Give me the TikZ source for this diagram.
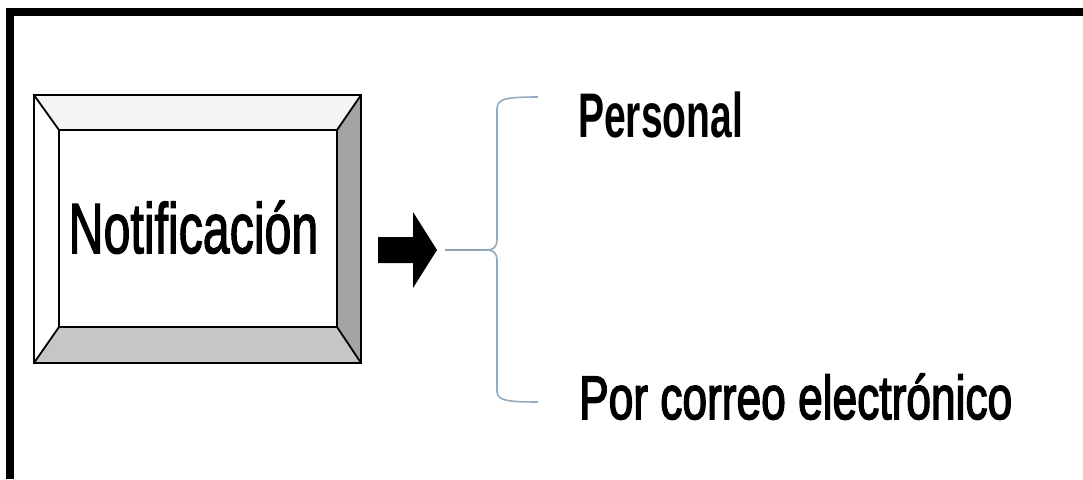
\documentclass[tikz,border=0pt]{standalone}
\usepackage{fontspec}
\setmainfont{Liberation Sans}
\newfontfamily\heavyfont[FakeBold=2.2]{Liberation Sans}
\newfontfamily\heavierfont[FakeBold=2.8]{Liberation Sans}
\definecolor{braceblue}{HTML}{94ABBF}
\definecolor{bevelR}{HTML}{A4A4A4}
\definecolor{bevelB}{HTML}{C6C6C6}
\definecolor{bevelT}{HTML}{F4F4F4}
\tikzset{
  framebar/.style={fill=black},
  bevelline/.style={draw=black, line width=1.8pt},
  bracestyle/.style={draw=braceblue, line width=1.6pt},
  lbl/.style={inner sep=0pt, anchor=base west, text=black},
}
\begin{document}
\begin{tikzpicture}[x=1pt,y=-1pt]
\useasboundingbox (0,0) rectangle (1083,479);
% frame
\fill[framebar] (6,8) rectangle (1083,16);
\fill[framebar] (6,8) rectangle (14,479);
% bevelled box
\node[minimum width=327pt, minimum height=268pt, inner sep=0pt] (box) at (197.5,229) {};
\coordinate (i1) at (59,130);
\coordinate (i2) at (337,327);
\fill[bevelT] (box.north west) -- (box.north east) -- (337,130) -- (59,130) -- cycle;
\fill[white] (box.north west) -- (59,130) -- (59,327) -- (box.south west) -- cycle;
\fill[bevelR] (box.north east) -- (box.south east) -- (337,327) -- (337,130) -- cycle;
\fill[bevelB] (box.south west) -- (box.south east) -- (337,327) -- (59,327) -- cycle;
\draw[bevelline] (box.north west) rectangle (box.south east);
\draw[bevelline] (i1) rectangle (i2);
\draw[bevelline] (box.north west) -- (i1);
\draw[bevelline] (box.north east) -- (337,130);
\draw[bevelline] (box.south west) -- (59,327);
\draw[bevelline] (box.south east) -- (i2);
\node[inner sep=0pt, anchor=base, xscale=0.68] (lab) at (193.5,253) {\fontsize{71}{71}\heavyfont Notificación};
% block arrow
\fill[black] (378,237) -- (413,237) -- (413,212) -- (437,250) -- (413,288) -- (413,263) -- (378,263) -- cycle;
\coordinate (tip) at (437,250);
% brace
\coordinate (stem) at (445,250);
\coordinate (cusp) at (487,250);
\coordinate (top) at (538,97);
\coordinate (bot) at (538,402);
\draw[draw=braceblue!80!gray, line width=2.4pt] (stem) -- (cusp);
\draw[bracestyle] (top) .. controls (505,97) and (497,99) .. (497,109) -- (497,240)
  .. controls (497,247) and (493,250) .. (cusp)
  .. controls (493,250) and (497,253) .. (497,260) -- (497,391)
  .. controls (497,400) and (505,402) .. (bot);
% labels
\node[lbl, xscale=0.62] (pers) at (578,137) {\fontsize{63}{63}\selectfont\bfseries Personal};
\node[lbl, xscale=0.72] (mail) at (579,419) {\fontsize{61.5}{61.5}\heavierfont Por correo electrónico};
\end{tikzpicture}
\end{document}
